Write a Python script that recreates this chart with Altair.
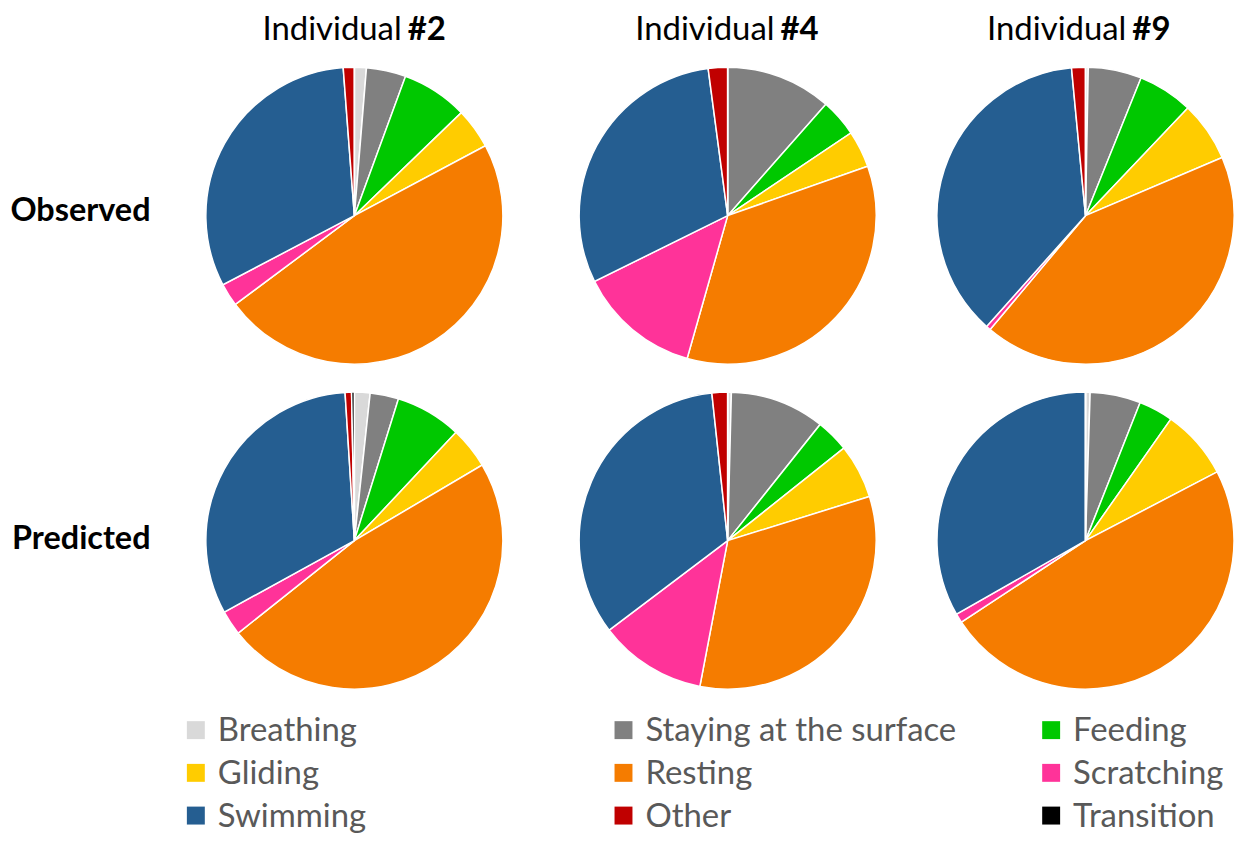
import altair as alt
import pandas as pd

categories = ["Breathing", "Staying at the surface", "Feeding", "Gliding", "Resting",
              "Scratching", "Swimming", "Other", "Transition"]
colors = ["#D9D9D9", "#808080", "#00C800", "#FFCC00", "#F57C00",
          "#FF3399", "#255E91", "#C00000", "#000000"]

individuals = ["#2", "#4", "#9"]
row_labels = ["Observed", "Predicted"]

obs_2 = [1.3, 4.3, 7.2, 4.4, 47.6, 2.5, 31.5, 1.2, 0.0]
obs_4 = [0.0, 11.5, 4.1, 4.0, 34.8, 13.3, 30.2, 2.1, 0.0]
obs_9 = [0.3, 5.8, 6.0, 6.5, 42.5, 0.5, 36.9, 1.5, 0.0]
pred_2 = [1.7, 3.1, 7.2, 4.5, 47.8, 2.7, 32.0, 0.7, 0.3]
pred_4 = [0.4, 10.3, 3.6, 5.9, 32.8, 11.7, 33.6, 1.7, 0.0]
pred_9 = [0.5, 5.5, 3.75, 7.6, 48.4, 1.0, 33.25, 0.0, 0.0]

FONT = "Lato"
col_w = [335, 414, 300]
label_w = 180
pie_h = 326
head_h = 44
radii = [149, 149]

color_scale = alt.Scale(domain=categories, range=colors)
color = alt.Color("Behaviour:N", scale=color_scale, legend=None)


def pie(vals, w, r):
    df = pd.DataFrame({"Behaviour": categories, "value": vals, "idx": list(range(len(categories)))})
    return alt.Chart(df).mark_arc(outerRadius=r, stroke="white", strokeWidth=1.5).encode(
        theta=alt.Theta("value:Q", stack=True),
        color=color,
        order=alt.Order("idx:Q"),
    ).properties(width=w, height=pie_h)


def header(ind, w, split):
    df = pd.DataFrame({"a": ["Individual"], "b": [ind]})
    base = alt.Chart(df)
    t1 = base.mark_text(align="right", baseline="alphabetic", font=FONT, fontSize=33,
                        color="#000000").encode(text="a:N", x=alt.value(split), y=alt.value(31))
    t2 = base.mark_text(align="left", baseline="alphabetic", font=FONT, fontSize=33,
                        fontWeight="bold", color="#000000").encode(
        text="b:N", x=alt.value(split + 6), y=alt.value(31))
    return alt.layer(t1, t2).properties(width=w, height=head_h)


def row_label(txt, ybase):
    df = pd.DataFrame({"t": [txt]})
    return alt.Chart(df).mark_text(align="right", baseline="alphabetic", font=FONT,
                                   fontSize=32.5, fontWeight="bold", color="#000000").encode(
        text="t:N", x=alt.value(143), y=alt.value(ybase)
    ).properties(width=label_w, height=pie_h)


def spacer(w, h):
    return alt.Chart(pd.DataFrame({"t": [""]})).mark_text().encode(text="t:N").properties(
        width=w, height=h)


# legend: categories laid out 3 per row, in order
leg_df = pd.DataFrame({
    "Behaviour": categories,
    "col": [i % 3 for i in range(len(categories))],
    "row": [i // 3 for i in range(len(categories))],
})
leg_base = alt.Chart(leg_df).encode(
    x=alt.X("col:O", axis=None, scale=alt.Scale(type="point", padding=0.05)),
    y=alt.Y("row:O", axis=None, scale=alt.Scale(type="point", padding=0.4)),
)
leg_sq = leg_base.mark_square(size=324, filled=True, opacity=1).encode(color=color)
leg_tx = leg_base.mark_text(align="left", baseline="middle", dx=22, dy=1, font=FONT,
                            fontSize=33, color="#595959").encode(text="Behaviour:N")
legend_chart = alt.layer(leg_sq, leg_tx).properties(width=901, height=120)

splits = [215, 254, 193]
head_row = alt.hconcat(spacer(label_w, head_h),
                       *[header(i, w, s) for i, w, s in zip(individuals, col_w, splits)],
                       spacing=0)
row1 = alt.hconcat(row_label(row_labels[0], 168),
                   *[pie(v, w, radii[0]) for v, w in zip([obs_2, obs_4, obs_9], col_w)],
                   spacing=0)
row2 = alt.hconcat(row_label(row_labels[1], 171),
                   *[pie(v, w, radii[1]) for v, w in zip([pred_2, pred_4, pred_9], col_w)],
                   spacing=0)
legend_row = alt.hconcat(spacer(167, 120), legend_chart, spacing=0)

pies = alt.vconcat(head_row, row1, row2, spacing=0)
chart = alt.vconcat(pies, legend_row, spacing=10).properties(
    padding={"left": 0, "top": 0, "right": 0, "bottom": 0},
    background="white",
).configure(font=FONT).configure_view(stroke="transparent", strokeWidth=0)

chart.save("out.html", embed_options={"renderer": "svg", "actions": False})
